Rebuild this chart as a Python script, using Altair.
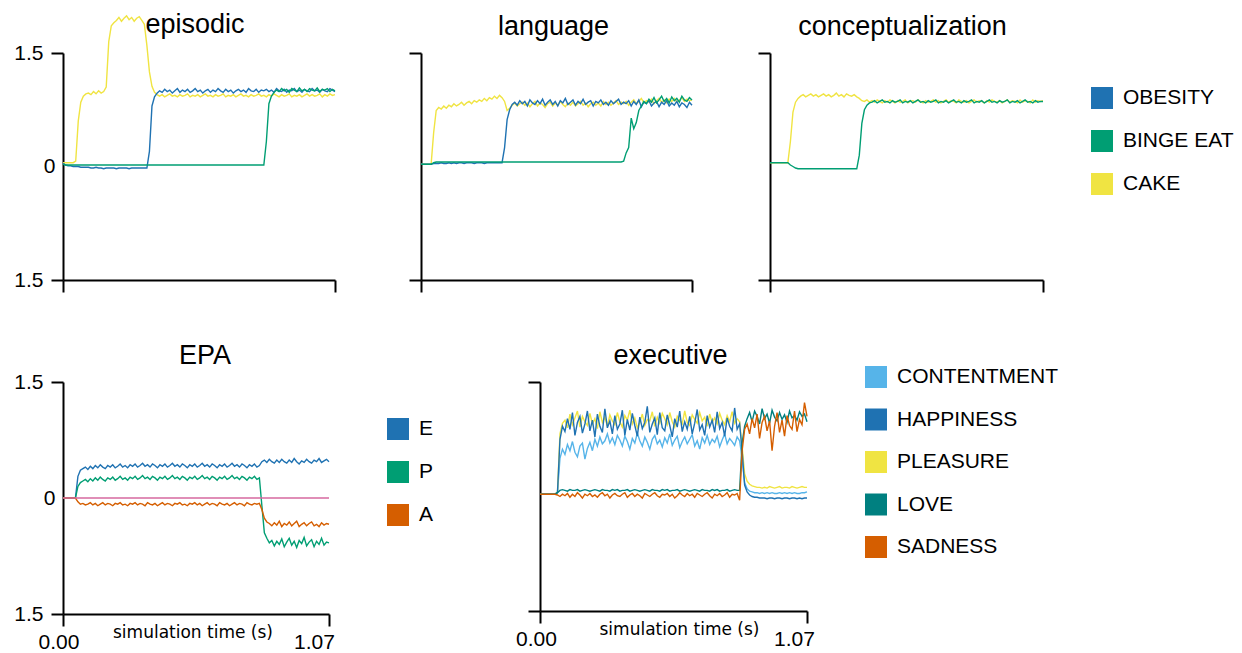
import altair as alt
import pandas as pd

FONT = "Liberation Sans"

# sample times (s) of the simulation traces
T = [round(i * 0.01, 2) for i in range(108)]

TOP_NAMES = ["OBESITY", "BINGE EAT", "CAKE"]
TOP_COLORS = ["#1f72b2", "#009e73", "#f0e442"]
EPA_NAMES = ["E", "P", "A"]
EPA_COLORS = ["#1f72b2", "#009e73", "#d55e00"]
EXE_NAMES = ["CONTENTMENT", "HAPPINESS", "PLEASURE", "LOVE", "SADNESS"]
EXE_COLORS = ["#56b4e9", "#1f72b2", "#f0e442", "#008080", "#d55e00"]

# ---------------- episodic ----------------
EP_CAKE = [
    0.05, 0.05, 0.05, 0.05, 0.05, 0.07, 0.60, 0.85, 0.93, 0.96,
    0.97, 0.95, 0.99, 0.96, 1.00, 0.97, 0.99, 1.05, 1.65, 1.86,
    1.90, 1.93, 1.97, 1.92, 1.96, 1.99, 1.94, 1.97, 1.92, 1.96,
    1.98, 1.93, 1.88, 1.60, 1.25, 1.06, 0.98, 0.95, 0.93, 0.95,
    0.92, 0.94, 0.96, 0.93, 0.94, 0.92, 0.95, 0.93, 0.94, 0.96,
    0.92, 0.94, 0.93, 0.95, 0.92, 0.94, 0.96, 0.93, 0.94, 0.92,
    0.95, 0.93, 0.94, 0.96, 0.92, 0.94, 0.93, 0.95, 0.92, 0.94,
    0.96, 0.93, 0.94, 0.92, 0.95, 0.93, 0.94, 0.96, 0.93, 0.94,
    0.92, 0.95, 0.93, 0.96, 0.94, 0.92, 0.95, 0.93, 0.94, 0.96,
    0.92, 0.94, 0.93, 0.95, 0.92, 0.94, 0.96, 0.93, 0.95, 0.93,
    0.94, 0.96, 0.92, 0.95, 0.93, 0.96, 0.94, 0.95,
]
EP_OBESITY = [
    0.04, 0.02, 0.01, 0.01, 0.00, 0.00, 0.00, -0.01, -0.01, -0.01,
    -0.01, -0.02, -0.02, -0.01, -0.02, -0.02, -0.03, -0.02, -0.02, -0.02,
    -0.02, -0.03, -0.02, -0.02, -0.02, -0.02, -0.03, -0.02, -0.02, -0.02,
    -0.02, -0.02, -0.02, -0.02, 0.20, 0.80, 0.92, 0.97, 1.00, 0.98,
    1.02, 0.99, 1.01, 0.97, 1.00, 1.03, 0.98, 1.01, 0.99, 1.02,
    0.98, 1.00, 1.03, 0.99, 1.01, 0.97, 1.00, 1.02, 0.98, 1.01,
    0.99, 1.03, 1.00, 0.98, 1.02, 0.99, 1.01, 0.97, 1.00, 1.02,
    0.99, 1.01, 0.98, 1.03, 1.00, 0.99, 1.02, 0.98, 1.01, 1.00,
    1.02, 0.99, 1.01, 0.98, 1.03, 1.00, 0.99, 1.02, 0.98, 1.01,
    1.00, 1.03, 0.99, 1.01, 0.98, 1.02, 1.00, 0.99, 1.03, 1.00,
    1.01, 0.98, 1.02, 1.00, 0.99, 1.03, 1.01, 0.99,
]
EP_BINGE = [
    0.03, 0.02, 0.02, 0.02, 0.02, 0.02, 0.02, 0.02, 0.02, 0.02,
    0.02, 0.02, 0.02, 0.02, 0.02, 0.02, 0.02, 0.02, 0.02, 0.02,
    0.02, 0.02, 0.02, 0.02, 0.02, 0.02, 0.02, 0.02, 0.02, 0.02,
    0.02, 0.02, 0.02, 0.02, 0.02, 0.02, 0.02, 0.02, 0.02, 0.02,
    0.02, 0.02, 0.02, 0.02, 0.02, 0.02, 0.02, 0.02, 0.02, 0.02,
    0.02, 0.02, 0.02, 0.02, 0.02, 0.02, 0.02, 0.02, 0.02, 0.02,
    0.02, 0.02, 0.02, 0.02, 0.02, 0.02, 0.02, 0.02, 0.02, 0.02,
    0.02, 0.02, 0.02, 0.02, 0.02, 0.02, 0.02, 0.02, 0.02, 0.02,
    0.33, 0.83, 0.93, 0.98, 1.01, 0.99, 1.03, 1.00, 1.02, 0.98,
    1.03, 1.01, 0.99, 1.04, 1.00, 1.02, 0.99, 1.03, 1.01, 1.00,
    1.04, 0.99, 1.02, 1.01, 1.03, 0.99, 1.02, 1.00,
]

# ---------------- language ----------------
LA_CAKE = [
    0.03, 0.03, 0.03, 0.03, 0.03, 0.45, 0.74, 0.78, 0.76, 0.80,
    0.77, 0.81, 0.79, 0.83, 0.80, 0.82, 0.85, 0.81, 0.84, 0.86,
    0.83, 0.87, 0.85, 0.88, 0.86, 0.90, 0.87, 0.91, 0.89, 0.93,
    0.90, 0.94, 0.91, 0.86, 0.74, 0.77, 0.81, 0.84, 0.80, 0.83,
    0.85, 0.81, 0.84, 0.79, 0.83, 0.86, 0.80, 0.84, 0.82, 0.78,
    0.83, 0.85, 0.80, 0.84, 0.81, 0.86, 0.82, 0.79, 0.84, 0.81,
    0.85, 0.80, 0.83, 0.86, 0.81, 0.84, 0.79, 0.83, 0.85, 0.81,
    0.84, 0.80, 0.86, 0.82, 0.85, 0.81, 0.84, 0.87, 0.82, 0.85,
    0.83, 0.86, 0.81, 0.85, 0.88, 0.83, 0.86, 0.90, 0.84, 0.87,
    0.85, 0.89, 0.83, 0.87, 0.90, 0.85, 0.88, 0.84, 0.89, 0.86,
    0.90, 0.85, 0.88, 0.91, 0.86, 0.89, 0.87, 0.88,
]
LA_OBESITY = [
    0.03, 0.03, 0.03, 0.03, 0.03, 0.04, 0.04, 0.04, 0.05, 0.04,
    0.04, 0.05, 0.04, 0.05, 0.04, 0.05, 0.05, 0.04, 0.05, 0.05,
    0.05, 0.04, 0.05, 0.05, 0.05, 0.04, 0.05, 0.05, 0.05, 0.05,
    0.05, 0.05, 0.05, 0.25, 0.62, 0.75, 0.82, 0.85, 0.81, 0.87,
    0.83, 0.86, 0.80, 0.88, 0.84, 0.82, 0.87, 0.83, 0.89, 0.81,
    0.85, 0.88, 0.82, 0.86, 0.80, 0.87, 0.84, 0.90, 0.82, 0.85,
    0.88, 0.81, 0.86, 0.83, 0.89, 0.82, 0.85, 0.87, 0.80, 0.86,
    0.84, 0.88, 0.82, 0.85, 0.81, 0.87, 0.83, 0.86, 0.89, 0.82,
    0.85, 0.83, 0.87, 0.80, 0.86, 0.82, 0.88, 0.79, 0.85, 0.83,
    0.87, 0.80, 0.84, 0.86, 0.79, 0.85, 0.82, 0.87, 0.80, 0.84,
    0.81, 0.86, 0.79, 0.84, 0.82, 0.78, 0.85, 0.81,
]
LA_BINGE = [
    0.03, 0.03, 0.03, 0.03, 0.03, 0.05, 0.06, 0.06, 0.06, 0.06,
    0.06, 0.06, 0.06, 0.06, 0.06, 0.06, 0.06, 0.06, 0.06, 0.06,
    0.06, 0.06, 0.06, 0.06, 0.06, 0.06, 0.06, 0.06, 0.06, 0.06,
    0.06, 0.06, 0.06, 0.06, 0.06, 0.06, 0.06, 0.06, 0.06, 0.06,
    0.06, 0.06, 0.06, 0.06, 0.06, 0.06, 0.06, 0.06, 0.06, 0.06,
    0.06, 0.06, 0.06, 0.06, 0.06, 0.06, 0.06, 0.06, 0.06, 0.06,
    0.06, 0.06, 0.06, 0.06, 0.06, 0.06, 0.06, 0.06, 0.06, 0.06,
    0.06, 0.06, 0.06, 0.06, 0.06, 0.06, 0.06, 0.06, 0.06, 0.06,
    0.07, 0.18, 0.25, 0.64, 0.50, 0.58, 0.74, 0.80, 0.86, 0.83,
    0.89, 0.85, 0.91, 0.84, 0.88, 0.93, 0.86, 0.90, 0.84, 0.92,
    0.87, 0.90, 0.85, 0.93, 0.88, 0.86, 0.91, 0.88,
]

# ---------------- conceptualization ----------------
CO_CAKE = [
    0.05, 0.05, 0.05, 0.05, 0.05, 0.05, 0.05, 0.05, 0.33, 0.72,
    0.85, 0.90, 0.93, 0.95, 0.92, 0.94, 0.96, 0.93, 0.95, 0.92,
    0.94, 0.96, 0.93, 0.95, 0.92, 0.94, 0.97, 0.93, 0.95, 0.92,
    0.96, 0.94, 0.93, 0.95, 0.92, 0.90, 0.87, 0.86, 0.88, 0.85,
    0.87, 0.85, 0.88, 0.86, 0.84, 0.87, 0.85, 0.88, 0.86, 0.84,
    0.87, 0.85, 0.86, 0.88, 0.84, 0.86, 0.87, 0.85, 0.88, 0.86,
    0.84, 0.87, 0.85, 0.86, 0.88, 0.85, 0.87, 0.84, 0.86, 0.88,
    0.85, 0.87, 0.86, 0.84, 0.88, 0.86, 0.85, 0.87, 0.84, 0.86,
    0.88, 0.85, 0.87, 0.86, 0.84, 0.87, 0.85, 0.88, 0.86, 0.85,
    0.87, 0.84, 0.86, 0.88, 0.85, 0.87, 0.86, 0.84, 0.88, 0.85,
    0.87, 0.86, 0.84, 0.88, 0.85, 0.87, 0.86, 0.87,
]
CO_BINGE = [
    0.05, 0.05, 0.05, 0.05, 0.05, 0.05, 0.05, 0.05, 0.02, 0.00,
    -0.02, -0.03, -0.03, -0.03, -0.03, -0.03, -0.03, -0.03, -0.03, -0.03,
    -0.03, -0.03, -0.03, -0.03, -0.03, -0.03, -0.03, -0.03, -0.03, -0.03,
    -0.03, -0.03, -0.03, -0.03, -0.03, 0.15, 0.57, 0.75, 0.81, 0.84,
    0.85, 0.87, 0.84, 0.86, 0.88, 0.85, 0.86, 0.84, 0.87, 0.85,
    0.86, 0.88, 0.84, 0.86, 0.85, 0.87, 0.84, 0.86, 0.88, 0.85,
    0.86, 0.84, 0.87, 0.85, 0.86, 0.88, 0.84, 0.86, 0.85, 0.87,
    0.84, 0.86, 0.88, 0.85, 0.86, 0.84, 0.87, 0.85, 0.86, 0.88,
    0.84, 0.86, 0.85, 0.87, 0.84, 0.86, 0.88, 0.85, 0.86, 0.84,
    0.87, 0.85, 0.86, 0.88, 0.84, 0.86, 0.85, 0.87, 0.84, 0.86,
    0.88, 0.85, 0.86, 0.84, 0.87, 0.85, 0.86, 0.86,
]

# ---------------- EPA ----------------
EPA_E = [
    0.00, 0.00, 0.00, 0.00, 0.00, 0.00, 0.28, 0.36, 0.38, 0.40,
    0.37, 0.41, 0.38, 0.42, 0.39, 0.43, 0.40, 0.38, 0.42, 0.40,
    0.43, 0.39, 0.41, 0.44, 0.40, 0.42, 0.39, 0.43, 0.41, 0.44,
    0.40, 0.42, 0.45, 0.41, 0.43, 0.40, 0.44, 0.42, 0.39, 0.43,
    0.41, 0.44, 0.40, 0.42, 0.45, 0.41, 0.43, 0.40, 0.44, 0.42,
    0.39, 0.43, 0.41, 0.44, 0.40, 0.42, 0.45, 0.41, 0.43, 0.40,
    0.44, 0.42, 0.39, 0.43, 0.41, 0.44, 0.40, 0.42, 0.45, 0.41,
    0.43, 0.40, 0.44, 0.42, 0.39, 0.43, 0.41, 0.44, 0.40, 0.42,
    0.47, 0.49, 0.46, 0.50, 0.47, 0.45, 0.49, 0.46, 0.50, 0.47,
    0.45, 0.49, 0.46, 0.51, 0.47, 0.44, 0.48, 0.46, 0.50, 0.47,
    0.45, 0.49, 0.47, 0.51, 0.46, 0.48, 0.50, 0.47,
]
EPA_P = [
    0.00, 0.00, 0.00, 0.00, 0.00, 0.00, 0.15, 0.20, 0.22, 0.24,
    0.21, 0.25, 0.22, 0.26, 0.23, 0.27, 0.24, 0.22, 0.26, 0.24,
    0.27, 0.23, 0.25, 0.28, 0.24, 0.26, 0.23, 0.27, 0.25, 0.28,
    0.24, 0.26, 0.29, 0.25, 0.27, 0.24, 0.28, 0.26, 0.23, 0.27,
    0.25, 0.28, 0.24, 0.26, 0.29, 0.25, 0.27, 0.24, 0.28, 0.26,
    0.23, 0.27, 0.25, 0.28, 0.24, 0.26, 0.29, 0.25, 0.27, 0.24,
    0.28, 0.26, 0.23, 0.27, 0.25, 0.28, 0.24, 0.26, 0.29, 0.25,
    0.27, 0.24, 0.28, 0.26, 0.23, 0.27, 0.25, 0.28, 0.24, 0.26,
    -0.10, -0.45, -0.52, -0.58, -0.55, -0.62, -0.56, -0.60, -0.53, -0.63,
    -0.57, -0.52, -0.61, -0.56, -0.64, -0.55, -0.59, -0.51, -0.62, -0.57,
    -0.54, -0.63, -0.56, -0.60, -0.52, -0.61, -0.57, -0.58,
]
EPA_A = [
    0.00, 0.00, 0.00, 0.00, 0.00, 0.00, -0.05, -0.08, -0.07, -0.09,
    -0.08, -0.06, -0.09, -0.07, -0.10, -0.08, -0.06, -0.09, -0.07, -0.08,
    -0.10, -0.07, -0.08, -0.06, -0.09, -0.08, -0.10, -0.07, -0.08, -0.06,
    -0.09, -0.07, -0.08, -0.10, -0.06, -0.08, -0.09, -0.07, -0.10, -0.08,
    -0.06, -0.09, -0.07, -0.08, -0.10, -0.07, -0.08, -0.06, -0.09, -0.08,
    -0.10, -0.07, -0.08, -0.06, -0.09, -0.07, -0.10, -0.08, -0.06, -0.09,
    -0.07, -0.08, -0.10, -0.06, -0.08, -0.09, -0.07, -0.10, -0.08, -0.06,
    -0.09, -0.07, -0.08, -0.10, -0.06, -0.08, -0.09, -0.07, -0.08, -0.07,
    -0.15, -0.26, -0.31, -0.33, -0.36, -0.32, -0.35, -0.30, -0.37, -0.33,
    -0.35, -0.31, -0.36, -0.33, -0.30, -0.37, -0.34, -0.32, -0.36, -0.33,
    -0.31, -0.36, -0.34, -0.37, -0.32, -0.35, -0.33, -0.34,
]

# ---------------- executive ----------------
EX_CONTENTMENT = [
    0.03, 0.03, 0.03, 0.03, 0.03, 0.03, 0.03, 0.05, 0.50, 0.62,
    0.55, 0.68, 0.60, 0.72, 0.58, 0.52, 0.66, 0.70, 0.49, 0.63,
    0.71, 0.60, 0.75, 0.66, 0.78, 0.69, 0.73, 0.82, 0.70, 0.77,
    0.68, 0.80, 0.74, 0.66, 0.79, 0.72, 0.62, 0.76, 0.70, 0.83,
    0.73, 0.66, 0.78, 0.71, 0.62, 0.75, 0.80, 0.69, 0.74, 0.65,
    0.77, 0.70, 0.82, 0.67, 0.74, 0.79, 0.64, 0.72, 0.78, 0.69,
    0.75, 0.81, 0.66, 0.73, 0.62, 0.77, 0.70, 0.80, 0.68, 0.75,
    0.71, 0.79, 0.65, 0.74, 0.82, 0.69, 0.76, 0.72, 0.67, 0.78,
    0.73, 0.50, 0.18, 0.10, 0.07, 0.06, 0.05, 0.05, 0.04, 0.05,
    0.04, 0.05, 0.04, 0.05, 0.04, 0.04, 0.05, 0.04, 0.05, 0.04,
    0.05, 0.04, 0.05, 0.04, 0.04, 0.05, 0.05, 0.06,
]
EX_HAPPINESS = [
    0.03, 0.03, 0.03, 0.03, 0.03, 0.03, 0.03, 0.05, 0.75, 0.92,
    0.85, 1.02, 0.88, 1.10, 0.80, 0.97, 1.05, 0.83, 0.95, 1.12,
    0.86, 1.00, 0.78, 1.08, 0.92, 0.84, 1.15, 0.90, 0.99, 0.82,
    1.06, 0.88, 0.95, 1.13, 0.80, 1.01, 0.87, 1.09, 0.93, 0.79,
    1.04, 0.89, 0.97, 1.18, 0.84, 0.95, 1.03, 0.81, 1.10, 0.90,
    0.86, 1.07, 0.93, 0.78, 1.02, 0.91, 1.12, 0.85, 0.98, 0.88,
    1.05, 0.82, 0.96, 1.14, 0.87, 0.94, 0.80, 1.06, 0.91, 1.00,
    0.84, 1.11, 0.89, 0.97, 0.79, 1.03, 0.92, 0.86, 1.16, 0.88,
    0.95, 0.60, 0.15, 0.06, 0.02, 0.00, -0.01, -0.01, -0.02, -0.02,
    -0.02, -0.03, -0.02, -0.02, -0.03, -0.02, -0.02, -0.03, -0.02, -0.02,
    -0.03, -0.02, -0.02, -0.03, -0.02, -0.03, -0.02, -0.02,
]
EX_PLEASURE = [
    0.03, 0.03, 0.03, 0.03, 0.03, 0.03, 0.03, 0.06, 0.82, 0.96,
    1.00, 0.90, 1.08, 0.94, 1.03, 1.12, 0.91, 1.05, 0.98, 0.93,
    1.09, 0.95, 1.02, 0.89, 1.11, 0.97, 1.04, 0.92, 1.07, 0.99,
    0.94, 1.10, 0.98, 0.91, 1.06, 1.00, 1.13, 0.95, 1.03, 0.90,
    0.97, 1.08, 0.93, 1.01, 0.99, 1.11, 0.92, 1.04, 0.96, 1.09,
    1.02, 0.94, 1.10, 0.98, 0.91, 1.05, 1.00, 0.95, 1.12, 0.97,
    0.93, 1.07, 1.01, 0.96, 1.10, 0.99, 1.04, 0.92, 1.08, 0.97,
    1.03, 0.95, 1.09, 1.00, 0.94, 1.06, 0.98, 1.11, 0.96, 1.02,
    0.98, 0.65, 0.30, 0.20, 0.16, 0.14, 0.13, 0.12, 0.12, 0.11,
    0.12, 0.11, 0.13, 0.12, 0.11, 0.12, 0.13, 0.11, 0.12, 0.12,
    0.11, 0.13, 0.12, 0.11, 0.12, 0.13, 0.12, 0.12,
]
EX_LOVE = [
    0.03, 0.03, 0.03, 0.03, 0.03, 0.03, 0.03, 0.05, 0.08, 0.09,
    0.08, 0.07, 0.09, 0.08, 0.08, 0.09, 0.07, 0.08, 0.09, 0.08,
    0.07, 0.08, 0.09, 0.08, 0.07, 0.09, 0.08, 0.08, 0.07, 0.09,
    0.08, 0.09, 0.07, 0.08, 0.08, 0.09, 0.07, 0.08, 0.09, 0.08,
    0.07, 0.08, 0.09, 0.08, 0.07, 0.09, 0.08, 0.08, 0.07, 0.09,
    0.08, 0.09, 0.07, 0.08, 0.08, 0.09, 0.07, 0.08, 0.09, 0.08,
    0.07, 0.08, 0.09, 0.08, 0.07, 0.09, 0.08, 0.08, 0.07, 0.09,
    0.08, 0.09, 0.07, 0.08, 0.08, 0.09, 0.07, 0.08, 0.09, 0.08,
    0.08, 0.70, 0.92, 1.02, 1.10, 0.98, 1.12, 1.05, 0.95, 1.15,
    1.02, 1.08, 0.96, 1.13, 1.04, 0.99, 1.10, 1.01, 1.07, 0.97,
    1.12, 1.03, 1.06, 1.00, 1.11, 1.05, 1.08, 0.98,
]
EX_SADNESS = [
    0.03, 0.03, 0.03, 0.03, 0.03, 0.03, 0.03, 0.02, 0.00, 0.03,
    0.01, 0.04, -0.01, 0.03, 0.00, 0.05, 0.02, -0.02, 0.03, 0.01,
    0.04, 0.00, 0.02, -0.01, 0.03, 0.05, 0.01, 0.03, -0.02, 0.02,
    0.04, 0.01, 0.00, 0.03, 0.05, -0.01, 0.02, 0.04, 0.00, 0.03,
    0.01, -0.02, 0.04, 0.02, 0.00, 0.03, 0.05, 0.01, -0.01, 0.03,
    0.02, 0.04, 0.00, 0.03, -0.02, 0.01, 0.05, 0.02, 0.00, 0.04,
    0.01, 0.03, -0.01, 0.04, 0.02, 0.00, 0.03, 0.05, 0.01, -0.02,
    0.03, 0.01, 0.04, 0.00, 0.02, 0.05, -0.01, 0.03, 0.02, 0.04,
    -0.05, 0.60, 0.88, 0.95, 0.82, 1.02, 0.90, 1.08, 0.76, 0.97,
    1.05, 0.86, 0.99, 0.60, 0.92, 1.10, 0.84, 1.00, 0.79, 1.06,
    0.93, 0.88, 1.12, 0.85, 1.01, 0.94, 1.23, 1.05,
]

for _s in [EP_CAKE, EP_OBESITY, EP_BINGE, LA_CAKE, LA_OBESITY, LA_BINGE, CO_CAKE,
           CO_BINGE, EPA_E, EPA_P, EPA_A, EX_CONTENTMENT, EX_HAPPINESS, EX_PLEASURE,
           EX_LOVE, EX_SADNESS]:
    assert len(_s) == len(T), len(_s)


def long_df(series):
    rows = []
    for name, vals in series.items():
        for t, v in zip(T, vals):
            rows.append({"t": t, "v": v, "s": name})
    return pd.DataFrame(rows)


def make_panel(title, series, names, colors, width, height, ylabels, xlabels,
               legend, t_offset, t_dx, x_lab_off=None, x_title_x=None, zero_line=False):
    df = long_df(series)
    xs = alt.Scale(domain=[0, 1.07], nice=False, zero=False)
    ys = alt.Scale(domain=[-1.5, 1.5], nice=False, zero=False)
    if xlabels:
        x_axis = alt.Axis(
            values=[0, 1.07], tickSize=12, grid=False, labels=True,
            labelExpr="format(datum.value, '.2f')", labelPadding=5,
            labelFlush=False, labelOverlap=False, labelBaseline="top", labelAlign="center",
            labelOffset={"condition": {"test": "datum.value == 0", "value": x_lab_off[0]},
                         "value": x_lab_off[1]},
            title="simulation time (s)", titleFont="DejaVu Sans", titleFontSize=17,
            titleFontWeight="normal", titleColor="black", titleY=23, titleX=x_title_x,
            titleBaseline="alphabetic", titleAlign="center")
    else:
        x_axis = alt.Axis(values=[0, 1.07], tickSize=12, grid=False, labels=False, title=None)
    if ylabels:
        y_axis = alt.Axis(
            values=[-1.5, 0, 1.5],
            tickSize={"condition": {"test": "datum.value == 0", "value": 0}, "value": 12},
            labelExpr="datum.value == 0 ? '0' : format(abs(datum.value), '.1f')",
            labelPadding=8, labelFlush=False, labelOverlap=False, labelBaseline="middle",
            title=None, grid=False)
    else:
        y_axis = alt.Axis(values=[-1.5, 1.5], tickSize=12, labels=False, title=None, grid=False)

    color = alt.Color("s:N", scale=alt.Scale(domain=names, range=colors), legend=legend)
    layers = []
    for name in series:
        layers.append(
            alt.Chart(df).transform_filter(alt.datum.s == name)
            .mark_line(strokeWidth=1.4)
            .encode(x=alt.X("t:Q", scale=xs, axis=x_axis),
                    y=alt.Y("v:Q", scale=ys, axis=y_axis),
                    color=color))
    if zero_line:
        layers.append(
            alt.Chart(pd.DataFrame({"v": [0.0]})).mark_rule(color="#d6689f", strokeWidth=1.4)
            .encode(y=alt.Y("v:Q", scale=ys, axis=y_axis)))
    return alt.layer(*layers).properties(
        width=width, height=height,
        title=alt.Title(title, font=FONT, fontSize=27, fontWeight="normal", color="black",
                        anchor="middle", frame="group", baseline="alphabetic",
                        offset=t_offset, dx=t_dx))


def make_legend(x, y, row_pad):
    return alt.Legend(title=None, orient="none", legendX=x, legendY=y,
                      symbolType="square", symbolSize=121, symbolStrokeWidth=11,
                      symbolOpacity=1, labelFont=FONT, labelFontSize=21, labelColor="black",
                      labelOffset=10, labelLimit=400, rowPadding=row_pad, padding=0)


ep = make_panel("episodic", {"CAKE": EP_CAKE, "OBESITY": EP_OBESITY, "BINGE EAT": EP_BINGE},
                TOP_NAMES, TOP_COLORS, 272, 227, True, False, None, -47, -4)
la = make_panel("language", {"CAKE": LA_CAKE, "OBESITY": LA_OBESITY, "BINGE EAT": LA_BINGE},
                TOP_NAMES, TOP_COLORS, 271, 227, False, False, None, -10, -3)
co = make_panel("conceptualization", {"CAKE": CO_CAKE, "BINGE EAT": CO_BINGE},
                TOP_NAMES, TOP_COLORS, 273, 227, False, False,
                make_legend(321, 34, -13), -10, -4)
epa = make_panel("EPA", {"E": EPA_E, "P": EPA_P, "A": EPA_A},
                 EPA_NAMES, EPA_COLORS, 266, 232, True, True,
                 make_legend(324, 36, -13), -20, 9, x_lab_off=(-4.5, -15), x_title_x=129.5,
                 zero_line=True)
ex = make_panel("executive", {"CONTENTMENT": EX_CONTENTMENT, "PLEASURE": EX_PLEASURE,
                              "HAPPINESS": EX_HAPPINESS, "LOVE": EX_LOVE, "SADNESS": EX_SADNESS},
                EXE_NAMES, EXE_COLORS, 267, 229, False, True,
                make_legend(325, -16, -13.5), -25, -3, x_lab_off=(-4, -13), x_title_x=139)

top = alt.hconcat(alt.hconcat(ep, la, spacing=70).resolve_scale(color="independent"),
                  co, spacing=62).resolve_scale(color="independent")
bottom = alt.hconcat(epa, ex, spacing=81).resolve_scale(color="independent")

chart = (
    alt.vconcat(top, bottom, spacing=49)
    .resolve_scale(color="independent")
    .properties(padding={"left": 13, "top": 11, "right": 0, "bottom": 0}, background="white")
    .configure_view(stroke=None)
    .configure_axis(domainColor="black", tickColor="black", domainWidth=2, tickWidth=2,
                    labelColor="black", labelFont=FONT, labelFontSize=21, grid=False)
)

chart.save("out.html", embed_options={"renderer": "svg", "actions": False})
